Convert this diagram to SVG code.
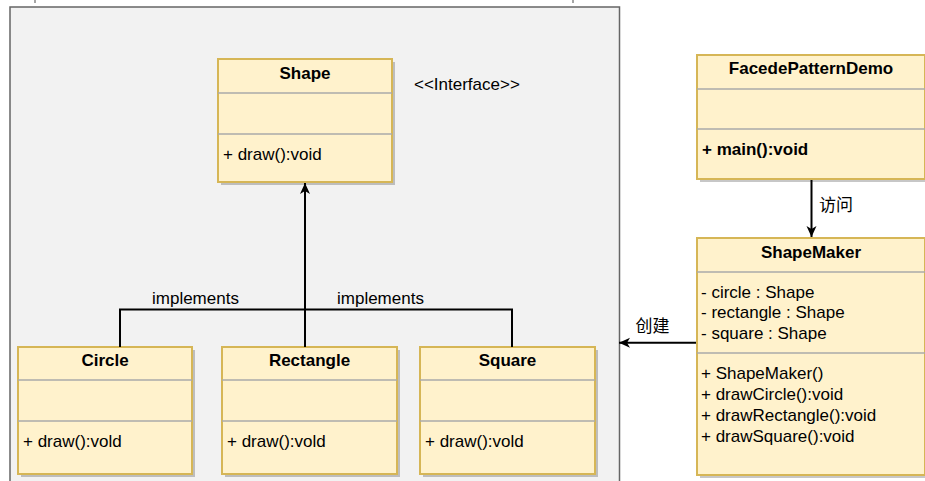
<svg xmlns="http://www.w3.org/2000/svg" width="925" height="481" viewBox="0 0 925 481">
<defs>
<style>
.box{fill:#fff2cc;stroke:#d6b656;stroke-width:2}
.sh{fill:#000;opacity:0.22}
.div{stroke:#aaaaaa;stroke-width:1.5}
.t{font-family:"Liberation Sans",Arial,sans-serif;font-size:17px;fill:#000}
.b{font-weight:bold}
.c{text-anchor:middle}
.cjk{font-family:"Liberation Sans","Noto Sans CJK SC",sans-serif;font-size:17px;fill:#000}
.edge{fill:none;stroke:#000;stroke-width:2}
</style>
<marker id="arr" markerUnits="userSpaceOnUse" markerWidth="14" markerHeight="12" refX="11" refY="5" orient="auto">
<path d="M0,0 L11,5 L0,10 L3,5 Z" fill="#000"/>
</marker>
</defs>
<rect width="925" height="481" fill="#ffffff"/>
<line x1="35" y1="0" x2="35" y2="3" stroke="#888" stroke-width="1.5"/>
<line x1="573" y1="0" x2="573" y2="3" stroke="#888" stroke-width="1.5"/>
<rect id="container" x="10" y="7" width="609.5" height="500" fill="#f2f2f2" stroke="#666666" stroke-width="1.5"/>

<g id="shape">
<rect class="sh" x="221" y="62" width="174" height="123"/>
<rect class="box" x="218" y="59" width="174" height="123"/>
<line class="div" x1="218" y1="93" x2="392" y2="93"/>
<line class="div" x1="218" y1="134" x2="392" y2="134"/>
<text class="t b c" x="305" y="79">Shape</text>
<text class="t" x="223" y="160">+ draw():void</text>
</g>
<text id="interface-label" class="t" x="414" y="90">&lt;&lt;Interface&gt;&gt;</text>

<g id="circle">
<rect class="sh" x="21" y="350" width="174" height="127"/>
<rect class="box" x="18" y="347" width="174" height="127"/>
<line class="div" x1="18" y1="380" x2="192" y2="380"/>
<line class="div" x1="18" y1="421" x2="192" y2="421"/>
<text class="t b c" x="105" y="366">Circle</text>
<text class="t" x="23" y="447">+ draw():vold</text>
</g>

<g id="rectangle">
<rect class="sh" x="225" y="350" width="175" height="127"/>
<rect class="box" x="222" y="347" width="175" height="127"/>
<line class="div" x1="222" y1="380" x2="397" y2="380"/>
<line class="div" x1="222" y1="421" x2="397" y2="421"/>
<text class="t b c" x="309.5" y="366">Rectangle</text>
<text class="t" x="227" y="447">+ draw():vold</text>
</g>

<g id="square">
<rect class="sh" x="423" y="350" width="175" height="127"/>
<rect class="box" x="420" y="347" width="175" height="127"/>
<line class="div" x1="420" y1="380" x2="595" y2="380"/>
<line class="div" x1="420" y1="421" x2="595" y2="421"/>
<text class="t b c" x="507.5" y="366">Square</text>
<text class="t" x="425" y="447">+ draw():vold</text>
</g>

<g id="facade">
<rect class="sh" x="700" y="58" width="228" height="124"/>
<rect class="box" x="697" y="55" width="228" height="124"/>
<line class="div" x1="697" y1="89" x2="925" y2="89"/>
<line class="div" x1="697" y1="129" x2="925" y2="129"/>
<text class="t b c" x="811" y="74">FacedePatternDemo</text>
<text class="t b" x="702" y="155">+ main():void</text>
</g>

<g id="shapemaker">
<rect class="sh" x="700" y="241" width="228" height="237"/>
<rect class="box" x="697" y="238" width="228" height="237"/>
<line class="div" x1="697" y1="272" x2="925" y2="272"/>
<line class="div" x1="697" y1="353" x2="925" y2="353"/>
<text class="t b c" x="811" y="257.5">ShapeMaker</text>
<text class="t" x="701" y="297.5">- circle : Shape</text>
<text class="t" x="701" y="318.3">- rectangle : Shape</text>
<text class="t" x="701" y="339.2">- square : Shape</text>
<text class="t" x="701" y="379.3">+ ShapeMaker()</text>
<text class="t" x="701" y="400">+ drawCircle():void</text>
<text class="t" x="701" y="420.8">+ drawRectangle():void</text>
<text class="t" x="701" y="441.6">+ drawSquare():void</text>
</g>

<g id="connectors">
<path class="edge" d="M305,347 L305,183" marker-end="url(#arr)"/>
<path class="edge" d="M120,347 L120,309.5 L512,309.5 L512,347"/>
<path class="edge" d="M811.5,180 L811.5,237" marker-end="url(#arr)"/>
<path class="edge" d="M696,342.7 L619,342.7" marker-end="url(#arr)"/>
<text class="t" x="152" y="304">implements</text>
<text class="t" x="337" y="304">implements</text>
<text class="cjk" x="819" y="210.5">访问</text>
<text class="cjk" x="635.5" y="331.5">创建</text>
</g>
</svg>
